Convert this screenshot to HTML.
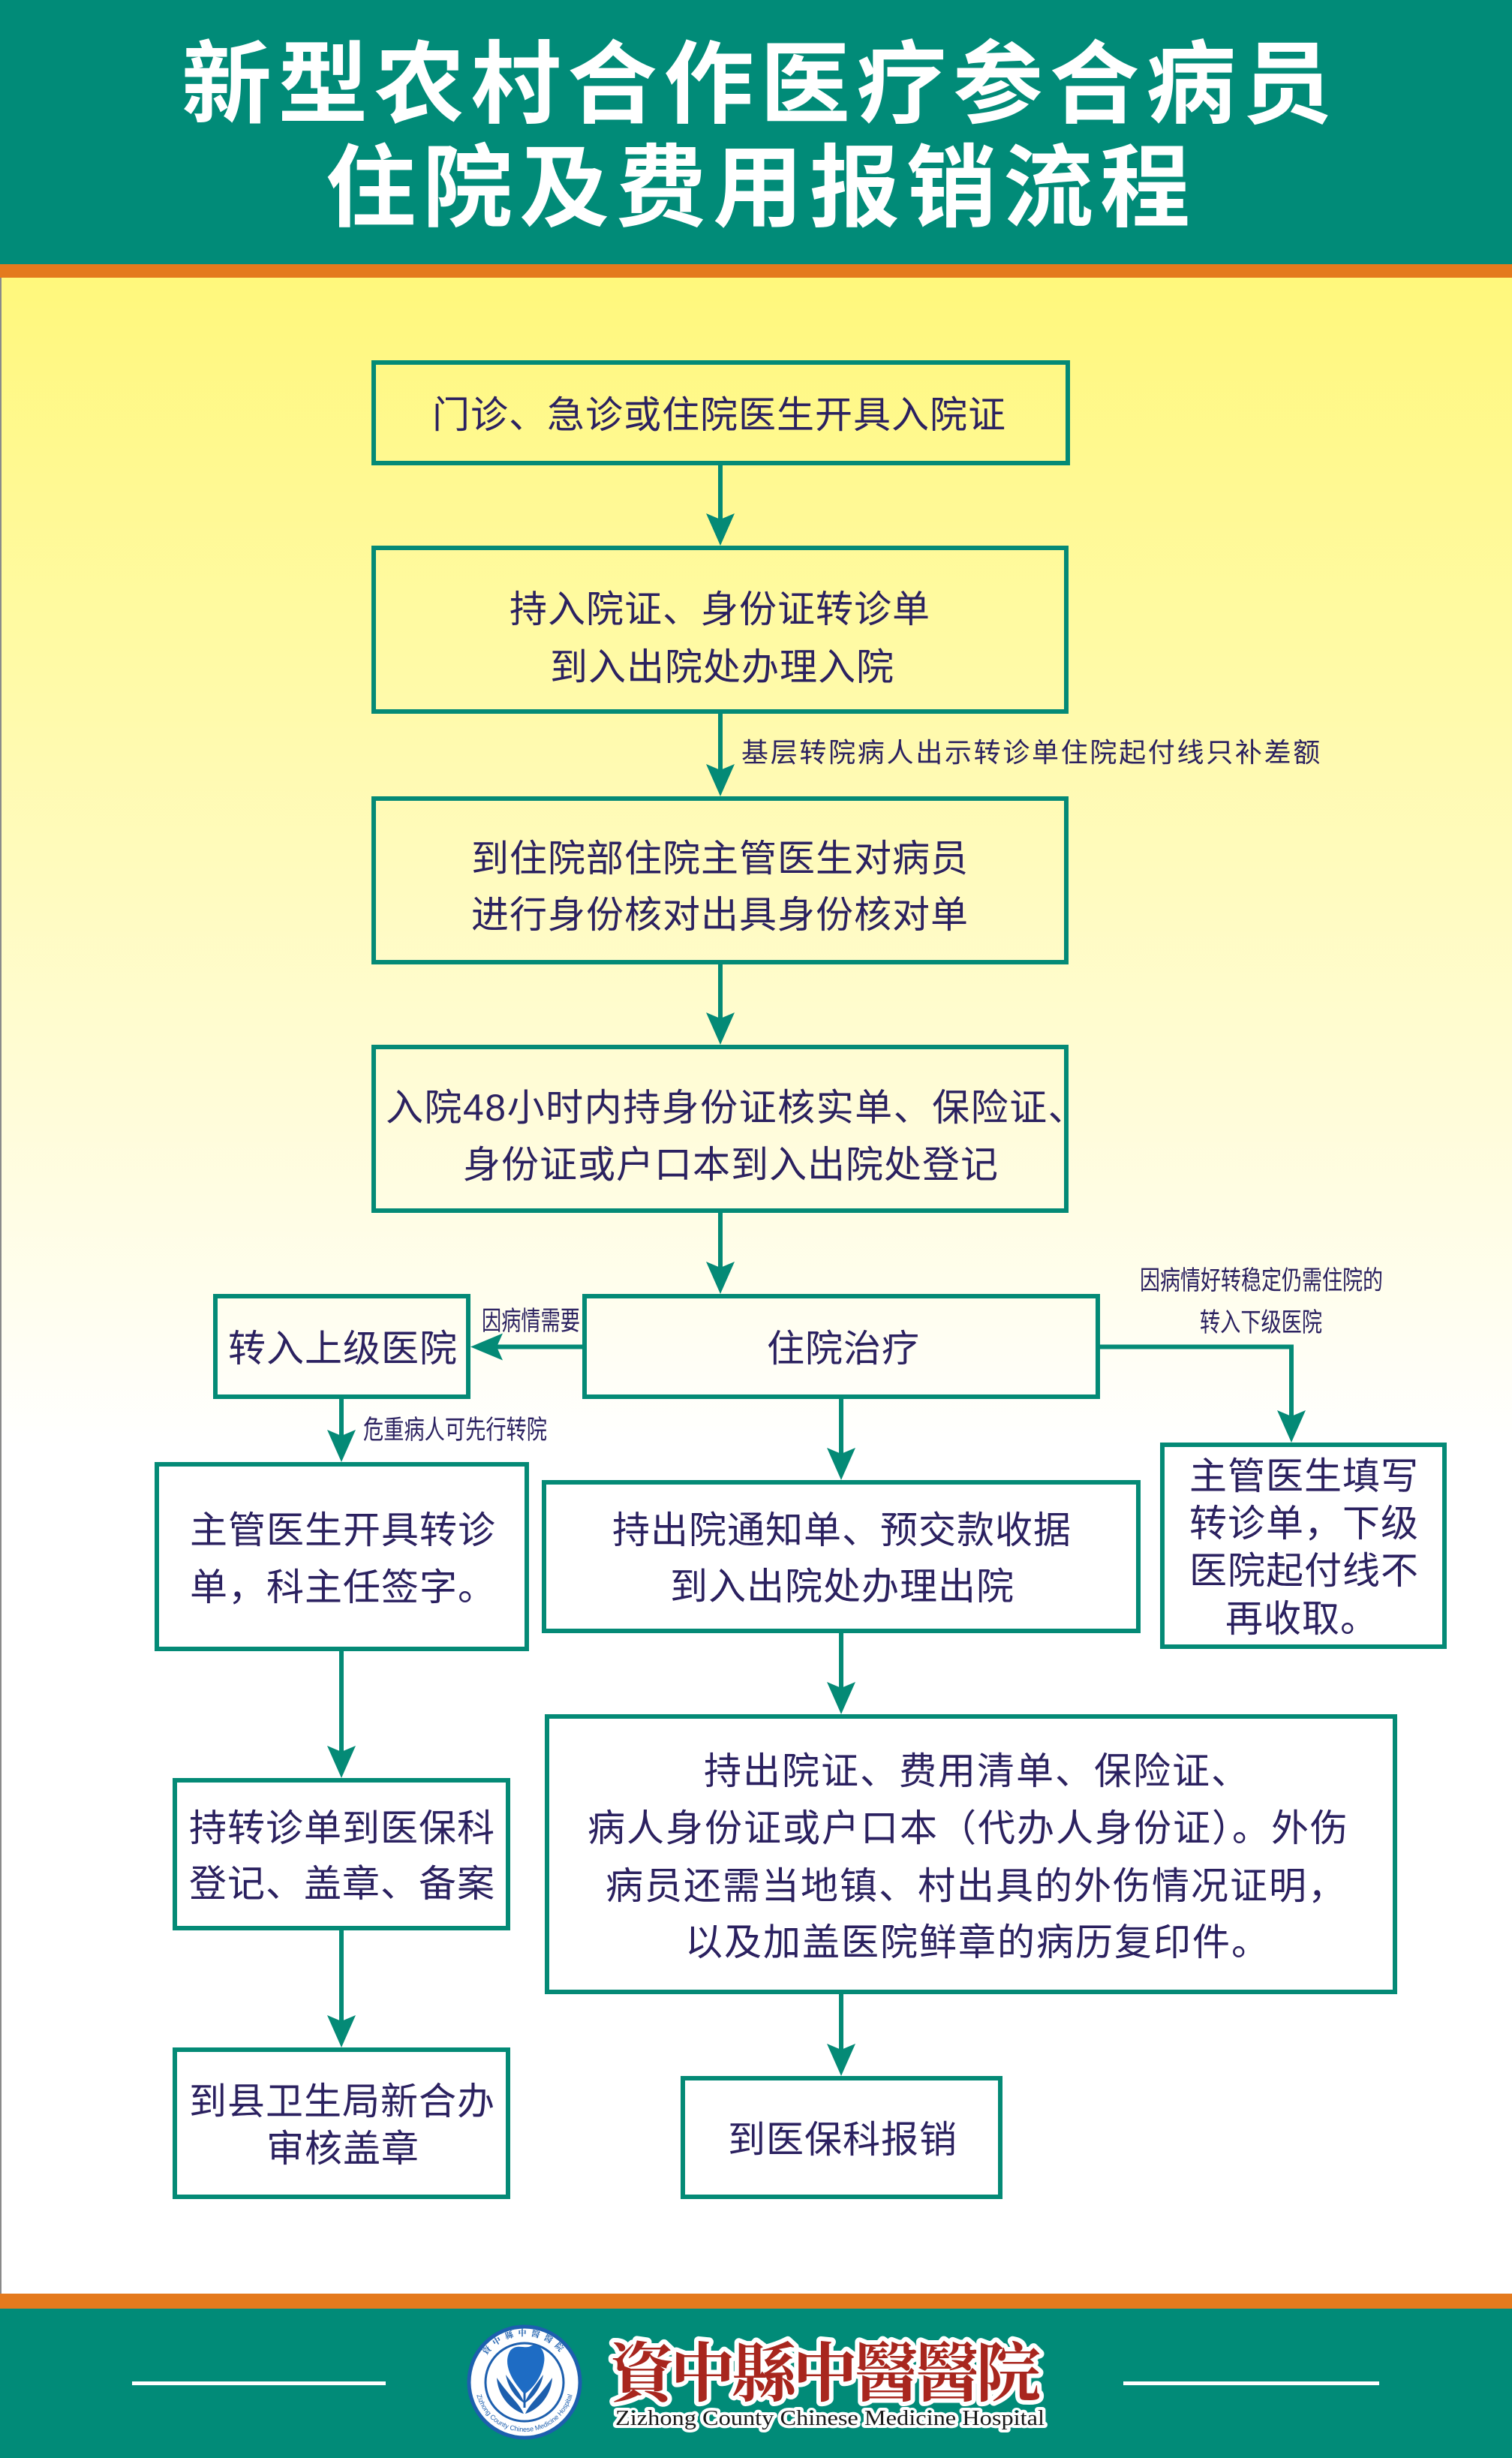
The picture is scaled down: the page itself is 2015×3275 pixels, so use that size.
<!DOCTYPE html>
<html lang="zh-CN">
<head>
<meta charset="utf-8">
<title>新型农村合作医疗参合病员住院及费用报销流程</title>
<style>
  html,body{margin:0;padding:0;background:#fff;}
  svg{display:block;}
  .t{font-family:"Liberation Sans","Noto Sans CJK SC",sans-serif;font-size:50px;fill:#2B2160;letter-spacing:1px;}
  .t2{font-family:"Liberation Sans","Noto Sans CJK SC",sans-serif;font-size:50px;fill:#2B2160;letter-spacing:2px;}
  .lb{font-family:"Liberation Sans","Noto Sans CJK SC",sans-serif;fill:#2B2160;}
  .title{font-family:"Liberation Sans","Noto Sans CJK SC",sans-serif;font-size:120px;font-weight:bold;fill:#ffffff;}
  .box{fill:none;stroke:#048A76;stroke-width:6;}
  .ln{fill:none;stroke:#048A76;stroke-width:6;}
  .ah{fill:#048A76;}
</style>
</head>
<body>
<svg width="2015" height="3275" viewBox="0 0 2015 3275" xmlns="http://www.w3.org/2000/svg">
  <defs>
    <linearGradient id="bg" gradientUnits="userSpaceOnUse" x1="0" y1="370" x2="0" y2="3056">
      <stop offset="0" stop-color="#FFF87C"/>
      <stop offset="0.2" stop-color="#FFFAA8"/>
      <stop offset="0.4" stop-color="#FFFCD6"/>
      <stop offset="0.58" stop-color="#FFFFFF"/>
      <stop offset="1" stop-color="#FFFFFF"/>
    </linearGradient>
    <path id="ringTop" d="M 637,3174 A 62,62 0 0 1 761,3174"/>
    <path id="ringBot" d="M 633,3174 A 66,66 0 0 0 765,3174"/>
  </defs>

  <!-- background bands -->
  <rect x="0" y="0" width="2015" height="352" fill="#018B78"/>
  <rect x="0" y="352" width="2015" height="18" fill="#E47A1D"/>
  <rect x="0" y="370" width="2015" height="2686" fill="url(#bg)"/>
  <rect x="0" y="370" width="2" height="2686" fill="#8a8a8a"/>
  <rect x="0" y="3056" width="2015" height="20" fill="#E47A1D"/>
  <rect x="0" y="3076" width="2015" height="199" fill="#018B78"/>

  <!-- title -->
  <text class="title" x="242" y="154" style="letter-spacing:8.5px">新型农村合作医疗参合病员</text>
  <text class="title" x="434" y="292" style="letter-spacing:9px">住院及费用报销流程</text>

  <!-- boxes -->
  <rect class="box" x="498" y="483" width="925" height="134"/>
  <rect class="box" x="498" y="730" width="923" height="218"/>
  <rect class="box" x="498" y="1064" width="923" height="218"/>
  <rect class="box" x="498" y="1395" width="923" height="218"/>
  <rect class="box" x="779" y="1727" width="684" height="134"/>
  <rect class="box" x="287" y="1727" width="337" height="134"/>
  <rect class="box" x="1549" y="1925" width="376" height="269"/>
  <rect class="box" x="209" y="1951" width="493" height="246"/>
  <rect class="box" x="725" y="1975" width="792" height="198"/>
  <rect class="box" x="729" y="2287" width="1130" height="367"/>
  <rect class="box" x="910" y="2769" width="423" height="158"/>
  <rect class="box" x="233" y="2372" width="444" height="197"/>
  <rect class="box" x="233" y="2731" width="444" height="196"/>

  <!-- connectors -->
  <line class="ln" x1="960" y1="620" x2="960" y2="695"/>
  <path class="ah" d="M960,727 L941,684 L960,692 L979,684 Z"/>

  <line class="ln" x1="960" y1="951" x2="960" y2="1029"/>
  <path class="ah" d="M960,1061 L941,1018 L960,1026 L979,1018 Z"/>

  <line class="ln" x1="960" y1="1285" x2="960" y2="1360"/>
  <path class="ah" d="M960,1392 L941,1349 L960,1357 L979,1349 Z"/>

  <line class="ln" x1="960" y1="1616" x2="960" y2="1692"/>
  <path class="ah" d="M960,1724 L941,1681 L960,1689 L979,1681 Z"/>

  <line class="ln" x1="776" y1="1794.5" x2="660" y2="1794.5"/>
  <path class="ah" d="M627,1794.5 L670,1776.5 L662,1794.5 L670,1812.5 Z"/>

  <polyline class="ln" points="1466,1794.5 1721,1794.5 1721,1890"/>
  <path class="ah" d="M1721,1922 L1702,1879 L1721,1887 L1740,1879 Z"/>

  <line class="ln" x1="455" y1="1864" x2="455" y2="1916"/>
  <path class="ah" d="M455,1948 L436,1905 L455,1913 L474,1905 Z"/>

  <line class="ln" x1="1121" y1="1864" x2="1121" y2="1940"/>
  <path class="ah" d="M1121,1972 L1102,1929 L1121,1937 L1140,1929 Z"/>

  <line class="ln" x1="1121" y1="2176" x2="1121" y2="2252"/>
  <path class="ah" d="M1121,2284 L1102,2241 L1121,2249 L1140,2241 Z"/>

  <line class="ln" x1="1121" y1="2657" x2="1121" y2="2734"/>
  <path class="ah" d="M1121,2766 L1102,2723 L1121,2731 L1140,2723 Z"/>

  <line class="ln" x1="455" y1="2200" x2="455" y2="2337"/>
  <path class="ah" d="M455,2369 L436,2326 L455,2334 L474,2326 Z"/>

  <line class="ln" x1="455" y1="2572" x2="455" y2="2696"/>
  <path class="ah" d="M455,2728 L436,2685 L455,2693 L474,2685 Z"/>

  <!-- box texts -->
  <text class="t" x="576" y="570">门诊、急诊或住院医生开具入院证</text>

  <text class="t" x="679" y="829">持入院证、身份证转诊单</text>
  <text class="t" x="733" y="906">到入出院处办理入院</text>

  <text class="t" x="628" y="1161">到住院部住院主管医生对病员</text>
  <text class="t" x="628" y="1236">进行身份核对出具身份核对单</text>

  <text class="t" x="514" y="1493" style="letter-spacing:1.5px">入院48小时内持身份证核实单、保险证、</text>
  <text class="t" x="617" y="1569">身份证或户口本到入出院处登记</text>

  <text class="t" x="1022" y="1814">住院治疗</text>
  <text class="t" x="304" y="1814">转入上级医院</text>

  <text class="t" x="1585" y="1984">主管医生填写</text>
  <text class="t" x="1585" y="2047">转诊单，下级</text>
  <text class="t" x="1585" y="2110">医院起付线不</text>
  <text class="t" x="1633" y="2174">再收取。</text>

  <text class="t" x="253" y="2056">主管医生开具转诊</text>
  <text class="t" x="253" y="2132">单，科主任签字。</text>

  <text class="t" x="816" y="2056">持出院通知单、预交款收据</text>
  <text class="t" x="893" y="2131">到入出院处办理出院</text>

  <text class="t2" x="938" y="2377">持出院证、费用清单、保险证、</text>
  <text class="t2" x="783" y="2453">病人身份证或户口本（代办人身份证）。外伤</text>
  <text class="t2" x="807" y="2530">病员还需当地镇、村出具的外伤情况证明，</text>
  <text class="t2" x="913" y="2605">以及加盖医院鲜章的病历复印件。</text>

  <text class="t" x="970" y="2868">到医保科报销</text>

  <text class="t" x="252" y="2453">持转诊单到医保科</text>
  <text class="t" x="252" y="2527">登记、盖章、备案</text>

  <text class="t" x="252" y="2817">到县卫生局新合办</text>
  <text class="t" x="355" y="2880">审核盖章</text>

  <!-- connector labels -->
  <text class="lb" x="988" y="1015" style="font-size:36px;letter-spacing:2.7px">基层转院病人出示转诊单住院起付线只补差额</text>
  <text class="lb" x="642" y="1772" style="font-size:35px" textLength="131" lengthAdjust="spacingAndGlyphs">因病情需要</text>
  <text class="lb" x="1519" y="1718" style="font-size:35px" textLength="324" lengthAdjust="spacingAndGlyphs">因病情好转稳定仍需住院的</text>
  <text class="lb" x="1599" y="1774" style="font-size:35px" textLength="163" lengthAdjust="spacingAndGlyphs">转入下级医院</text>
  <text class="lb" x="484" y="1917" style="font-size:35px" textLength="245" lengthAdjust="spacingAndGlyphs">危重病人可先行转院</text>

  <!-- footer -->
  <rect x="176" y="3173" width="338" height="5" fill="#ffffff"/>
  <rect x="1497" y="3173" width="341" height="5" fill="#ffffff"/>

  <!-- logo -->
  <circle cx="699" cy="3174" r="74" fill="#ffffff" stroke="#1D5FAE" stroke-width="5"/>
  <circle cx="699" cy="3174" r="52" fill="none" stroke="#1D5FAE" stroke-width="3"/>
  <text style="font-family:'Noto Serif CJK SC',serif;font-size:11px;fill:#1D5FAE;font-weight:bold;" letter-spacing="6">
    <textPath href="#ringTop" startOffset="50%" text-anchor="middle">資中縣中醫醫院</textPath>
  </text>
  <text style="font-family:'Liberation Sans',sans-serif;font-size:9px;fill:#1D5FAE;">
    <textPath href="#ringBot" startOffset="50%" text-anchor="middle">Zizhong County Chinese Medicine Hospital</textPath>
  </text>
  <path d="M699,3190 C680,3170 670,3148 680,3132 C688,3122 700,3130 707,3126 C716,3121 728,3130 725,3148 C722,3168 710,3182 699,3190 Z" fill="#1E6CC4"/>
  <path d="M699,3188 L699,3208" stroke="#1D5FAE" stroke-width="3"/>
  <path d="M662,3168 C664,3196 684,3212 698,3216 C692,3202 678,3192 662,3168 Z" fill="#1D5FAE"/>
  <path d="M736,3168 C734,3196 714,3212 700,3216 C706,3202 720,3192 736,3168 Z" fill="#1D5FAE"/>
  <path d="M674,3164 C678,3186 692,3198 699,3202 C694,3190 686,3180 674,3164 Z" fill="#1D5FAE"/>
  <path d="M724,3164 C720,3186 706,3198 699,3202 C704,3190 712,3180 724,3164 Z" fill="#1D5FAE"/>

  <!-- hospital name -->
  <text x="812" y="3192" style="font-family:'Liberation Serif','Noto Serif CJK SC',serif;font-size:86px;font-weight:bold;fill:#A8261E;stroke:#ffffff;stroke-width:12px;paint-order:stroke;stroke-linejoin:round;" textLength="575" lengthAdjust="spacing">資中縣中醫醫院</text>
  <text x="820" y="3231" style="font-family:'Liberation Serif',serif;font-size:28px;fill:#1a1a1a;stroke:#ffffff;stroke-width:8px;paint-order:stroke;stroke-linejoin:round;" textLength="572" lengthAdjust="spacingAndGlyphs">Zizhong County Chinese Medicine Hospital</text>
</svg>
</body>
</html>
